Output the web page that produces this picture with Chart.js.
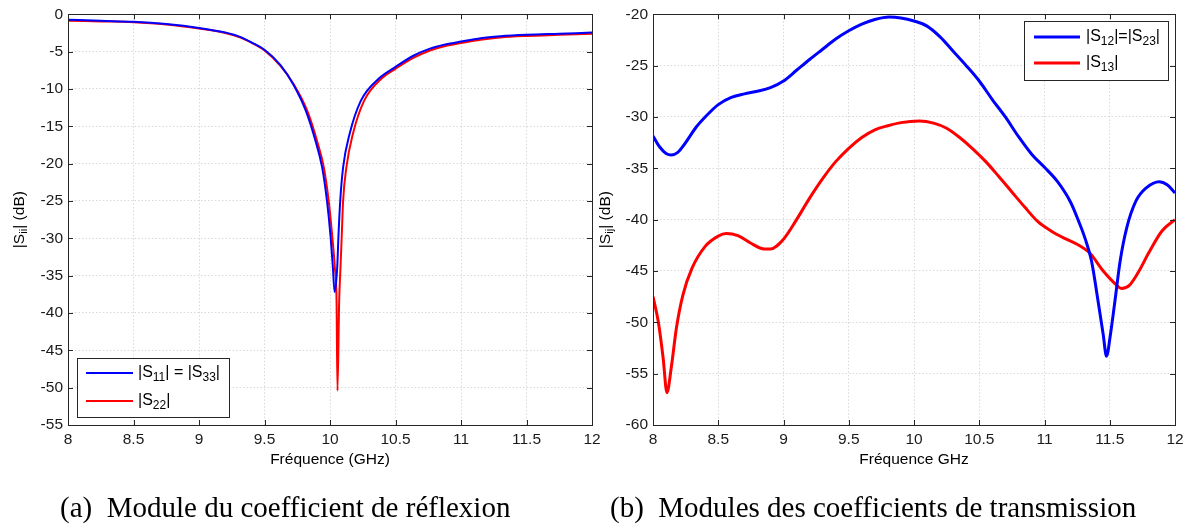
<!DOCTYPE html>
<html><head><meta charset="utf-8">
<script src="https://cdn.jsdelivr.net/npm/chart.js@4.4.1/dist/chart.umd.min.js"></script>
<style>
html,body{margin:0;padding:0;background:#fff;}
body{width:1189px;height:529px;position:relative;overflow:hidden;}
canvas{position:absolute;left:0;top:0;}
.cap{position:absolute;top:491px;font-family:"Liberation Serif","Times New Roman",serif;font-size:29px;color:#000;white-space:pre;line-height:32px;}
</style></head><body>
<canvas id="c1" width="1189" height="529"></canvas>
<canvas id="c2" width="1189" height="529"></canvas>
<div class="cap" style="left:60px">(a)  Module du coefficient de réflexion</div>
<div class="cap" style="left:610px">(b)  Modules des coefficients de transmission</div>
<script>
// ---------- DATA ----------
const xTicks = [8, 8.5, 9, 9.5, 10, 10.5, 11, 11.5, 12];
const yTicksA = [0, -5, -10, -15, -20, -25, -30, -35, -40, -45, -50, -55];
const yTicksB = [-20, -25, -30, -35, -40, -45, -50, -55, -60];

// (a) reflection
const freqS11 = [8.0, 8.25, 8.5, 8.75, 9.0, 9.2, 9.317, 9.4, 9.5, 9.622, 9.72, 9.815, 9.89, 9.94, 9.977, 10.003, 10.022, 10.035, 10.055, 10.065, 10.078, 10.1, 10.15, 10.235, 10.38, 10.5, 10.636, 10.763, 10.88, 11.0, 11.15, 11.3, 11.5, 11.75, 12.0];
const s11 = [-0.72, -0.88, -1.0, -1.3, -1.82, -2.45, -3.05, -3.75, -4.75, -6.8, -9.4, -12.9, -17, -20.5, -25, -29.5, -33.9, -37.2, -33.9, -29.5, -25, -20.5, -16, -11.6, -8.5, -7.05, -5.55, -4.6, -4.05, -3.65, -3.2, -2.95, -2.75, -2.6, -2.45];
const freqS22 = [8.0, 8.25, 8.5, 8.75, 9.0, 9.2, 9.317, 9.4, 9.5, 9.622, 9.724, 9.826, 9.902, 9.953, 9.99, 10.016, 10.037, 10.05, 10.057, 10.07, 10.08, 10.09, 10.1, 10.125, 10.175, 10.26, 10.4, 10.5, 10.636, 10.763, 10.88, 11.0, 11.15, 11.3, 11.5, 11.75, 12.0];
const s22 = [-0.85, -0.95, -1.05, -1.35, -1.9, -2.5, -3.1, -3.8, -4.85, -6.9, -9.4, -12.9, -17, -20.5, -25, -29.5, -33.9, -38.4, -50.4, -38.4, -33.9, -29.5, -25, -20.5, -16, -11.6, -8.5, -7.3, -5.85, -4.85, -4.25, -3.85, -3.4, -3.1, -2.9, -2.75, -2.6];

// (b) transmission
const freqS12 = [8.0, 8.05, 8.1, 8.14, 8.19, 8.25, 8.33, 8.4, 8.5, 8.6, 8.7, 8.8, 8.9, 9.0, 9.1, 9.2, 9.3, 9.4, 9.5, 9.6, 9.7, 9.81, 9.9, 10.0, 10.1, 10.2, 10.3, 10.4, 10.5, 10.6, 10.7, 10.8, 10.9, 11.0, 11.1, 11.2, 11.26, 11.31, 11.36, 11.41, 11.45, 11.475, 11.505, 11.54, 11.58, 11.63, 11.7, 11.78, 11.88, 11.94, 12.0];
const s12 = [-31.85, -32.9, -33.55, -33.7, -33.45, -32.5, -31.0, -30.0, -28.8, -28.1, -27.75, -27.5, -27.15, -26.5, -25.45, -24.4, -23.4, -22.4, -21.6, -20.95, -20.5, -20.26, -20.35, -20.65, -21.15, -22.2, -23.6, -25.0, -26.5, -28.3, -30.0, -31.9, -33.6, -34.9, -36.3, -38.3, -40.1, -41.8, -44.0, -47.9, -51.2, -53.3, -51.2, -47.9, -44.0, -40.8, -38.2, -36.9, -36.3, -36.6, -37.4];
const freqS13 = [8.0, 8.04, 8.077, 8.107, 8.14, 8.18, 8.23, 8.3, 8.4, 8.5, 8.56, 8.65, 8.75, 8.85, 8.9, 9.0, 9.1, 9.2, 9.3, 9.4, 9.5, 9.6, 9.7, 9.8, 9.9, 10.04, 10.15, 10.25, 10.35, 10.45, 10.55, 10.65, 10.75, 10.85, 10.95, 11.05, 11.15, 11.25, 11.35, 11.45, 11.53, 11.59, 11.65, 11.72, 11.8, 11.9, 12.0];
const s13 = [-47.5, -49.9, -53.4, -56.85, -54.4, -50.5, -47.3, -44.7, -42.6, -41.6, -41.35, -41.55, -42.3, -42.85, -42.85, -41.9, -40.0, -37.9, -36.0, -34.35, -33.05, -32.0, -31.25, -30.85, -30.55, -30.4, -30.6, -31.1, -32.0, -33.1, -34.35, -35.8, -37.3, -38.8, -40.2, -41.1, -41.8, -42.4, -43.3, -45.0, -46.1, -46.7, -46.4, -45.1, -43.2, -41.1, -40.0];

const labelA = [{t:'|S'},{t:'11',sub:true},{t:'| = |S'},{t:'33',sub:true},{t:'|'}];
const labelA2 = [{t:'|S'},{t:'22',sub:true},{t:'|'}];
const labelB = [{t:'|S'},{t:'12',sub:true},{t:'|=|S'},{t:'23',sub:true},{t:'|'}];
const labelB2 = [{t:'|S'},{t:'13',sub:true},{t:'|'}];
const yTitleA = [{t:'|S'},{t:'ii',sub:true},{t:'| (dB)'}];
const yTitleB = [{t:'|S'},{t:'ij',sub:true},{t:'| (dB)'}];
const xTitleA = 'Fréquence (GHz)';
const xTitleB = 'Fréquence GHz';

// ---------- HELPERS ----------
const FONT = '"Liberation Sans", Arial, Helvetica, sans-serif';
const pts = (xs, ys) => xs.map((x, i) => ({x, y: ys[i]}));

function drawRich(ctx, segs, x, y, size, subSize, drop, measureOnly) {
  let cx = x;
  for (const s of segs) {
    ctx.font = (s.sub ? subSize : size) + 'px ' + FONT;
    if (!measureOnly) ctx.fillText(s.t, cx, y + (s.sub ? drop : 0));
    cx += ctx.measureText(s.t).width;
  }
  return cx - x;
}

function framePlugin(cfg) {
  return {
    id: 'frame',
    afterDraw(chart) {
      const ctx = chart.ctx, a = chart.chartArea;
      const xs = chart.scales.x, ys = chart.scales.y;
      ctx.save();
      ctx.strokeStyle = '#262626';
      ctx.lineWidth = 1;
      ctx.beginPath();
      for (const v of xTicks) {
        const p = Math.round(xs.getPixelForValue(v)) + 0.5;
        ctx.moveTo(p, a.bottom); ctx.lineTo(p, a.bottom - 5);
        ctx.moveTo(p, a.top); ctx.lineTo(p, a.top + 5);
      }
      for (const v of cfg.yTicks) {
        const p = Math.round(ys.getPixelForValue(v)) + 0.5;
        ctx.moveTo(a.left, p); ctx.lineTo(a.left + 5, p);
        ctx.moveTo(a.right, p); ctx.lineTo(a.right - 5, p);
      }
      ctx.stroke();
      ctx.strokeRect(Math.round(a.left) + 0.5, Math.round(a.top) + 0.5, Math.round(a.right - a.left), Math.round(a.bottom - a.top));

      // y title (rotated, with subscript)
      ctx.fillStyle = '#000';
      ctx.textBaseline = 'middle';
      ctx.textAlign = 'left';
      const w = drawRich(ctx, cfg.yTitle, 0, 0, 15.5, 11.5, 4, true);
      ctx.save();
      ctx.translate(cfg.yTitleX, (a.top + a.bottom) / 2);
      ctx.rotate(-Math.PI / 2);
      drawRich(ctx, cfg.yTitle, -w / 2, 0, 15.5, 11.5, 4, false);
      ctx.restore();

      // legend
      const L = cfg.legend;
      ctx.fillStyle = '#fff';
      ctx.fillRect(L.x, L.y, L.w, L.h);
      ctx.strokeStyle = '#262626';
      ctx.lineWidth = 1;
      ctx.strokeRect(L.x + 0.5, L.y + 0.5, L.w, L.h);
      chart.data.datasets.forEach((ds, i) => {
        const ly = L.rows[i];
        ctx.strokeStyle = ds.borderColor;
        ctx.lineWidth = ds.borderWidth;
        ctx.beginPath();
        ctx.moveTo(L.lx0, ly); ctx.lineTo(L.lx1, ly);
        ctx.stroke();
        ctx.fillStyle = '#000';
        drawRich(ctx, L.labels[i], L.tx, ly, 16, 12, 5, false);
      });
      ctx.restore();
    }
  };
}

function makeOpts(yMin, yMax, yTickArr, xTitle, padLeft, yWidth, padRight) {
  return {
    responsive: false,
    animation: false,
    layout: {padding: {left: padLeft, right: padRight, top: 13, bottom: 60}},
    plugins: {legend: {display: false}, tooltip: {enabled: false}},
    elements: {point: {radius: 0}},
    scales: {
      x: {
        type: 'linear', min: 8, max: 12,
        afterBuildTicks: s => { s.ticks = xTicks.map(v => ({value: v})); },
        afterFit: s => { s.height = 44; },
        ticks: {color: '#1a1a1a', font: {family: FONT, size: 15.5}, padding: 5, maxRotation: 0,
                callback: v => String(v)},
        grid: {color: '#d9d9d9', drawTicks: false, lineWidth: 1},
        border: {display: false, dash: [1.5, 2]},
        title: {display: true, text: xTitle, color: '#000', font: {family: FONT, size: 15.5}, padding: {top: 0, bottom: 0}}
      },
      y: {
        type: 'linear', min: yMin, max: yMax,
        afterBuildTicks: s => { s.ticks = yTickArr.map(v => ({value: v})); },
        afterFit: s => { s.width = yWidth; },
        ticks: {color: '#1a1a1a', font: {family: FONT, size: 15.5}, padding: 5,
                callback: v => String(v)},
        grid: {color: '#d9d9d9', drawTicks: false, lineWidth: 1},
        border: {display: false, dash: [1.5, 2]}
      }
    }
  };
}

new Chart(document.getElementById('c1'), {
  type: 'line',
  data: {datasets: [
    {data: pts(freqS11, s11), borderColor: '#0000ff', borderWidth: 2, cubicInterpolationMode: 'monotone', fill: false},
    {data: pts(freqS22, s22), borderColor: '#ff0000', borderWidth: 2, cubicInterpolationMode: 'monotone', fill: false}
  ]},
  options: makeOpts(-55, 0, yTicksA, xTitleA, 0, 68, 597),
  plugins: [framePlugin({
    yTicks: yTicksA, yTitle: yTitleA, yTitleX: 20,
    legend: {x: 77, y: 358, w: 152, h: 59, lx0: 86, lx1: 133, tx: 138, rows: [373, 401], labels: [labelA, labelA2]}
  })]
});

new Chart(document.getElementById('c2'), {
  type: 'line',
  data: {datasets: [
    {data: pts(freqS12, s12), borderColor: '#0000ff', borderWidth: 3, cubicInterpolationMode: 'monotone', fill: false},
    {data: pts(freqS13, s13), borderColor: '#ff0000', borderWidth: 3, cubicInterpolationMode: 'monotone', fill: false}
  ]},
  options: makeOpts(-60, -20, yTicksB, xTitleB, 600, 53, 14),
  plugins: [framePlugin({
    yTicks: yTicksB, yTitle: yTitleB, yTitleX: 606,
    legend: {x: 1024, y: 21, w: 144, h: 59, lx0: 1034, lx1: 1080, tx: 1086, rows: [37, 63], labels: [labelB, labelB2]}
  })]
});
</script>
</body></html>
